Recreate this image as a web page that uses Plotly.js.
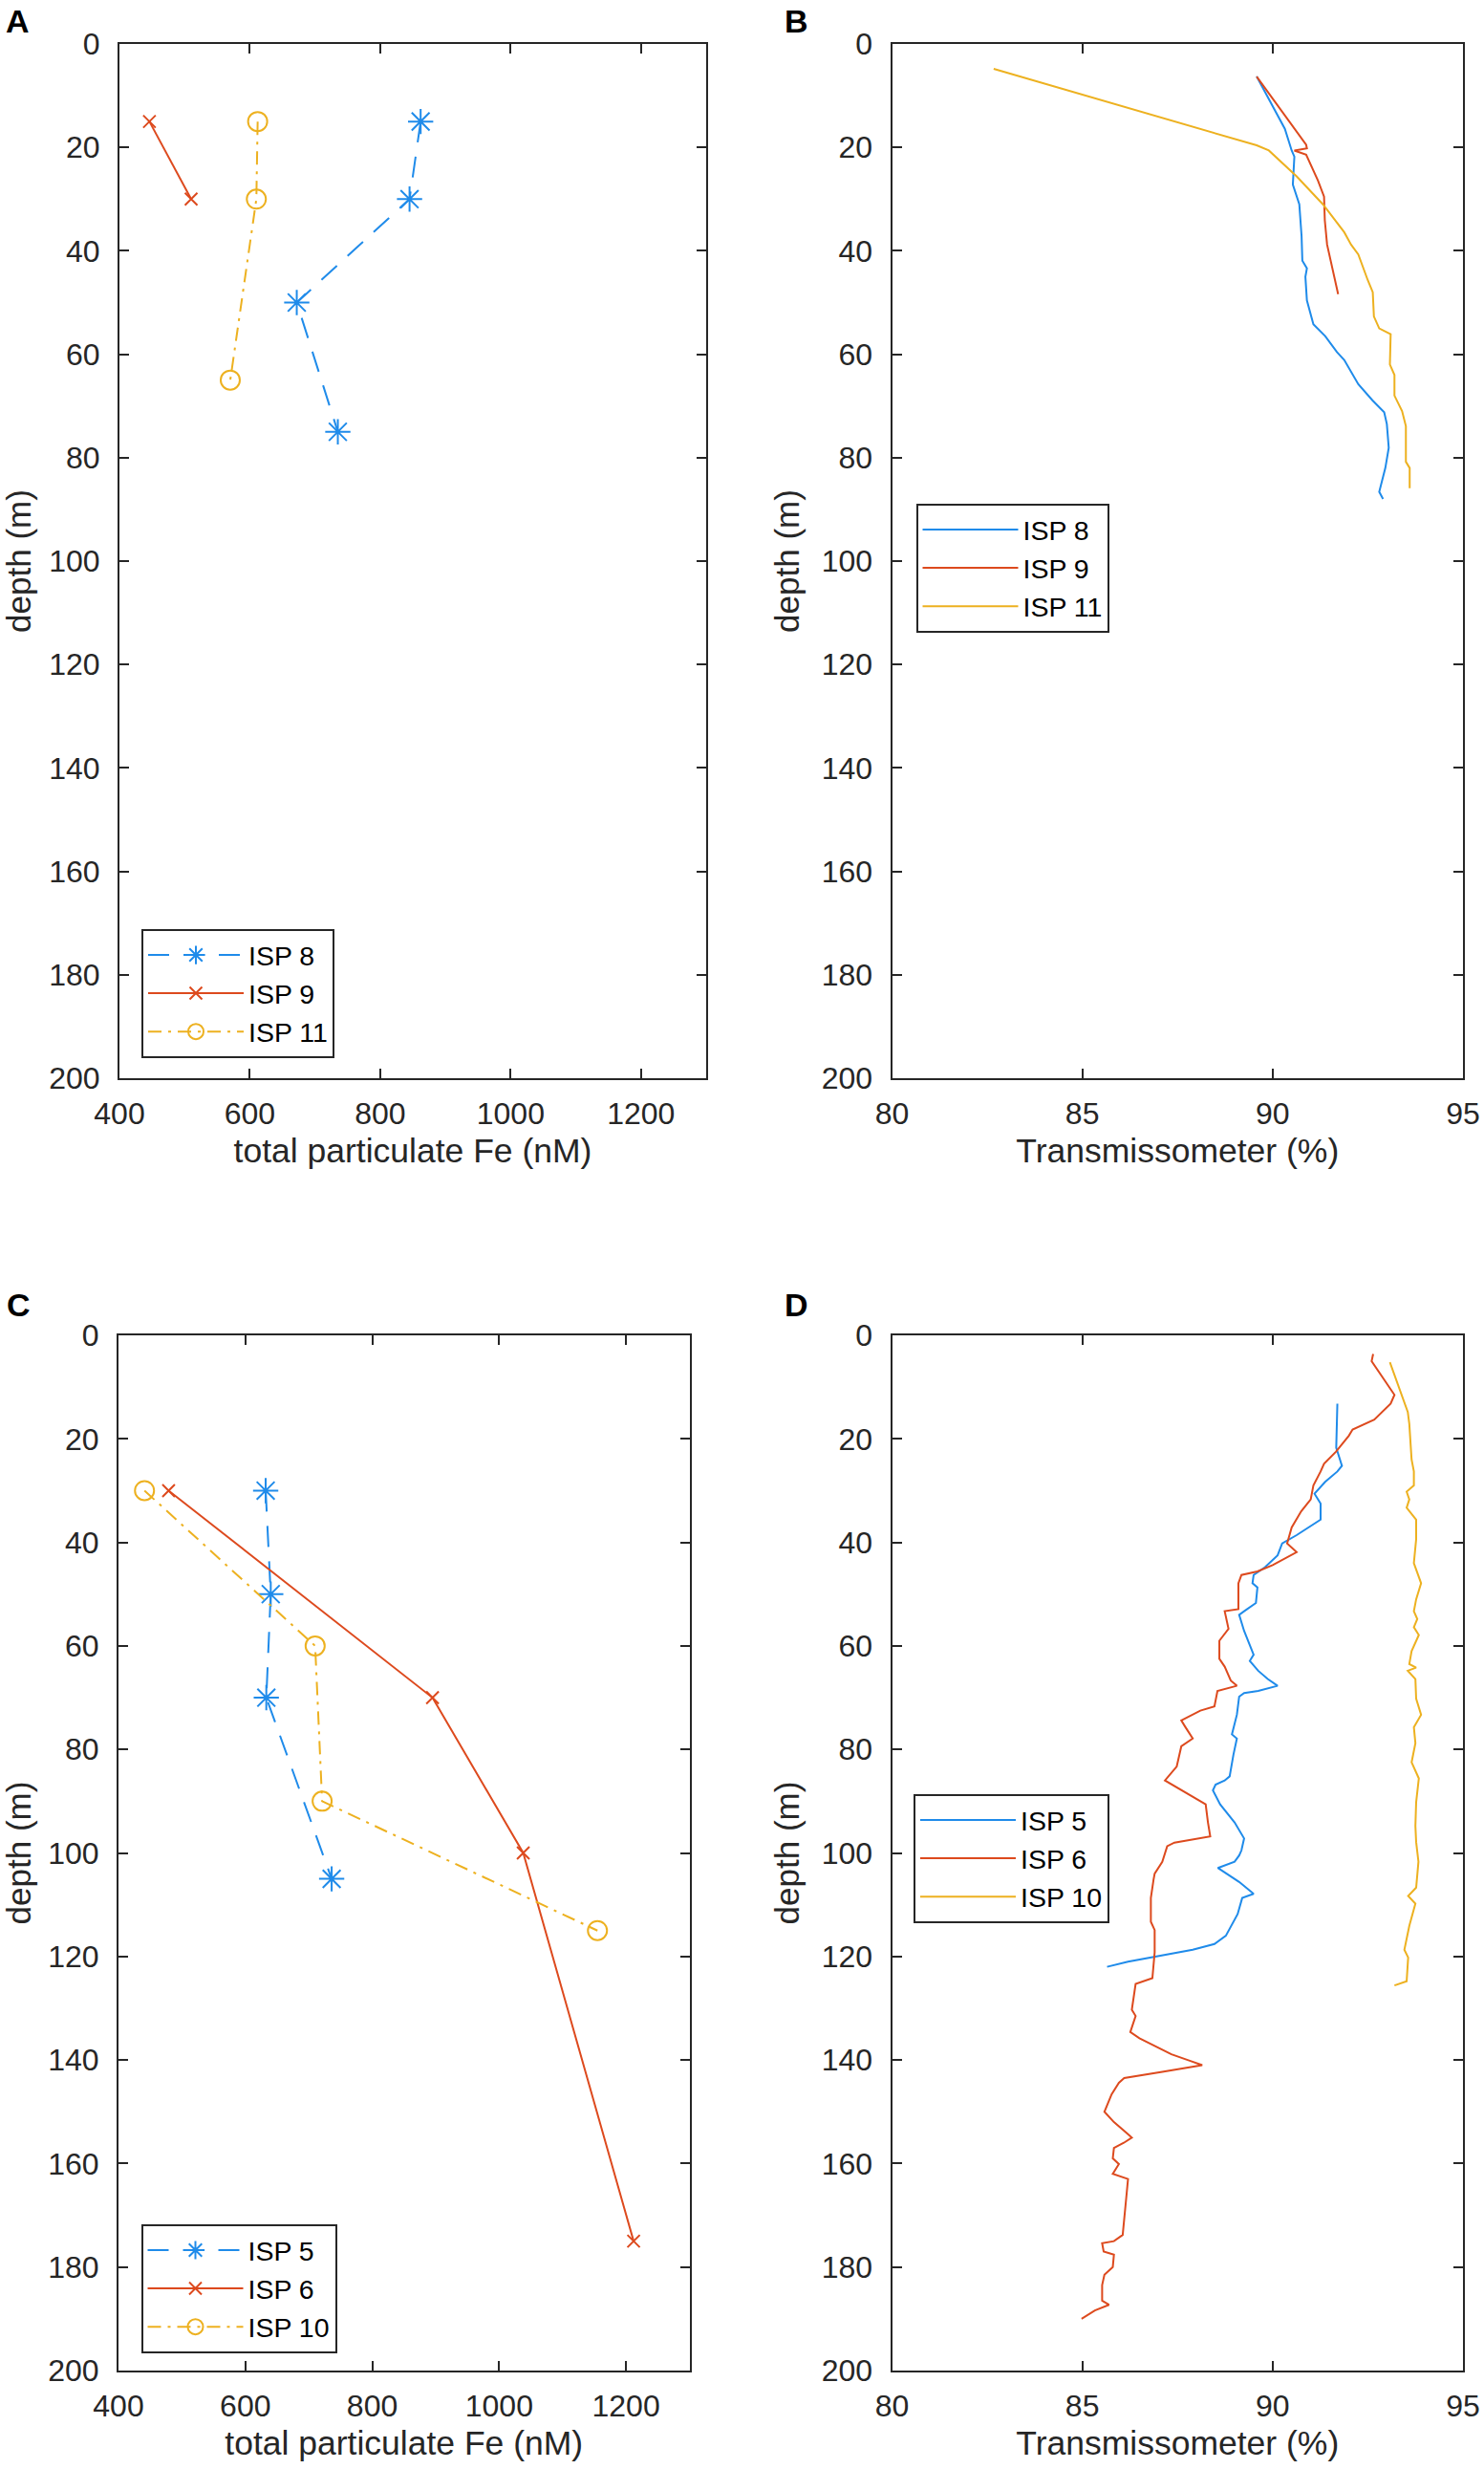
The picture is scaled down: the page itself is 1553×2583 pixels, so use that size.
<!DOCTYPE html>
<html><head><meta charset="utf-8">
<script src="https://cdn.plot.ly/plotly-3.0.1.min.js"></script>
<style>html,body{margin:0;padding:0;background:#fff}#chart{width:1553px;height:2583px}</style>
</head><body><div id="chart"></div>
<script>
// ---------- Panel A: total particulate Fe (nM) vs depth ----------
const depthA_ISP8 = [15, 30, 50, 75];
const feA_ISP8 = [862, 845, 672, 735];
const depthA_ISP9 = [15, 30];
const feA_ISP9 = [446, 510];
const depthA_ISP11 = [15, 30, 65];
const feA_ISP11 = [612, 610, 570];

// ---------- Panel B: transmissometer (%) vs depth ----------
const transB_ISP8 = [89.58, 90.32, 90.5, 90.57, 90.53, 90.7, 90.76, 90.78, 90.9, 90.86, 90.9, 91.07, 91.38, 91.69, 91.88, 92.25, 92.62, 92.93, 93.0, 93.05, 92.96, 92.8, 92.9];
const depthB_ISP8 = [6.3, 16.4, 20.6, 21.8, 27.2, 31, 37.2, 41.9, 43.4, 45, 49.6, 54.2, 56.5, 59.6, 61.1, 65.8, 68.9, 71.2, 73.5, 78.1, 82, 86.6, 88];
const transB_ISP9 = [89.58, 90.88, 90.9, 90.57, 90.88, 91.0, 91.19, 91.35, 91.37, 91.43, 91.56, 91.72];
const depthB_ISP9 = [6.3, 19.5, 20.2, 20.6, 21.4, 23.3, 26.4, 29.5, 34.1, 38.8, 43.4, 48.4];
const transB_ISP11 = [82.67, 89.58, 89.9, 90.63, 91.32, 91.88, 92.06, 92.25, 92.5, 92.63, 92.66, 92.8, 93.1, 93.08, 93.2, 93.2, 93.4, 93.5, 93.5, 93.6, 93.6];
const depthB_ISP11 = [4.8, 19.6, 20.6, 25.6, 31, 36.4, 38.8, 40.7, 45.7, 48, 52.7, 55, 56.1, 62, 64, 68, 71, 73.9, 80.8, 82, 85.9];

// ---------- Panel C: total particulate Fe (nM) vs depth ----------
const depthC_ISP5 = [30, 50, 70, 105];
const feC_ISP5 = [632, 640, 633, 736];
const depthC_ISP6 = [30, 70, 100, 175];
const feC_ISP6 = [479, 895, 1038, 1212];
const depthC_ISP10 = [30, 60, 90, 115];
const feC_ISP10 = [441, 710, 721, 1155];

// ---------- Panel D: transmissometer (%) vs depth ----------
const transD_ISP5 = [91.7, 91.67, 91.82, 91.7, 91.38, 91.1, 91.26, 91.26, 90.63, 90.25, 90.13, 89.8, 89.5, 89.47, 89.6, 89.56, 89.25, 89.12, 89.25, 89.37, 89.5, 89.4, 89.62, 89.87, 90.13, 89.62, 89.25, 89.12, 89.06, 88.93, 89.06, 88.97, 88.87, 88.74, 88.5, 88.43, 88.62, 89.0, 89.25, 89.18, 89.12, 89.0, 88.56, 89.12, 89.5, 89.2, 89.08, 88.77, 88.47, 87.9, 86.96, 86.2, 85.65];
const depthD_ISP5 = [13.2, 21.7, 25.2, 26.3, 28.3, 30.6, 32.5, 35.6, 38.6, 40.2, 42.5, 44.8, 46.3, 47.9, 48.7, 51.7, 53.3, 54, 57.1, 59.4, 61.7, 62.9, 64.8, 66.4, 67.7, 68.7, 69.1, 69.8, 73.3, 77.1, 77.9, 81, 85.2, 86, 86.8, 87.9, 90.6, 94.1, 97.2, 99.5, 100.5, 101.7, 102.9, 105.6, 107.9, 108.7, 111.8, 116, 117.6, 118.7, 119.9, 121, 122];
const transD_ISP6 = [92.64, 92.6, 93.2, 93.1, 92.67, 92.1, 92.0, 91.66, 91.35, 91.26, 91.07, 91.0, 90.75, 90.5, 90.38, 90.63, 90.0, 89.6, 89.18, 89.1, 89.1, 88.74, 88.84, 88.6, 88.6, 88.74, 88.9, 89.06, 88.55, 88.47, 88.1, 87.6, 87.7, 87.9, 87.6, 87.48, 87.17, 87.8, 88.24, 88.3, 88.36, 87.42, 87.23, 87.1, 86.9, 86.87, 86.8, 86.8, 86.9, 86.9, 86.87, 86.84, 86.4, 86.34, 86.3, 86.4, 86.26, 86.5, 87.34, 87.84, 88.15, 87.1, 86.1, 85.96, 85.77, 85.58, 85.83, 86.15, 86.3, 86.09, 85.83, 85.8, 85.96, 85.8, 86.2, 86.15, 86.09, 86.06, 85.83, 85.52, 85.56, 85.83, 85.8, 85.58, 85.52, 85.52, 85.7, 85.33, 84.98];
const depthD_ISP6 = [3.6, 5.0, 11.5, 13.2, 16.3, 18.2, 19.4, 22.5, 24.8, 26.3, 29, 31.7, 34, 37.1, 40.2, 41.9, 44.4, 45.6, 46.3, 47.9, 52.9, 53.3, 56.7, 59, 62.5, 64, 66.7, 67.7, 68.7, 71.7, 72.5, 74.4, 75.6, 77.9, 79.4, 83.3, 86, 88.7, 90.6, 94.1, 96.8, 98, 98.7, 101.7, 104, 105.2, 108.7, 113.3, 114.9, 119.2, 122.6, 124.2, 125.3, 128, 130.3, 131.5, 134.6, 135.8, 138.9, 140.2, 141, 142.3, 143.5, 144.4, 146.6, 150, 152, 154, 155, 156, 157, 159, 160.1, 162, 163, 166.9, 170.7, 173.8, 175, 175.4, 177, 177.6, 180, 181.5, 183.5, 186.5, 187.3, 188.4, 190];
const transD_ISP10 = [93.08, 93.33, 93.55, 93.59, 93.65, 93.71, 93.71, 93.52, 93.59, 93.52, 93.77, 93.77, 93.71, 93.9, 93.77, 93.71, 93.8, 93.71, 93.84, 93.65, 93.59, 93.77, 93.55, 93.75, 93.77, 93.9, 93.71, 93.75, 93.65, 93.84, 93.77, 93.75, 93.77, 93.83, 93.77, 93.56, 93.75, 93.59, 93.46, 93.56, 93.52, 93.2];
const depthD_ISP10 = [5.2, 10.2, 14.8, 17.1, 24, 26.3, 29, 30.2, 31.7, 33.3, 35.6, 39.4, 44, 47.9, 51, 53.3, 54.8, 56.4, 57.9, 61, 63.5, 64.2, 64.8, 66.4, 70.2, 73.3, 75.7, 78.8, 82.5, 85.6, 90.2, 94.8, 97.9, 101.7, 106.7, 108.3, 109.8, 114.1, 118.7, 120.2, 124.8, 125.6];

// ---------- tick labels ----------
const depthTicks = [0, 20, 40, 60, 80, 100, 120, 140, 160, 180, 200];
const feTicks = [400, 600, 800, 1000, 1200];
const transTicks = [80, 85, 90, 95];

// ---------- styling ----------
const W = 1553, H = 2583;
const px = v => v / W;
const py = v => 1 - v / H;
const FONT = 'Liberation Sans, Arial, Helvetica, sans-serif';
const AX = '#262626';
const BLUE = '#1F8BEA', RED = '#DD4A1E', YEL = '#EDB120';
const DASH = '22px,15px';
const DASHDOT = '14px,7px,3px,7px';

function xAxis(l, r, anchor, ticks, range, title) {
  return {
    domain: [px(l), px(r)], anchor: anchor, range: range, autorange: false,
    tickvals: ticks, ticktext: ticks.map(String),
    ticks: 'inside', ticklen: 10, tickwidth: 2, tickcolor: AX,
    showline: true, linecolor: AX, linewidth: 2, mirror: 'ticks',
    showgrid: false, zeroline: false, ticklabelstandoff: 8,
    tickfont: {family: FONT, size: 32, color: AX},
    title: {text: title, font: {family: FONT, size: 35.5, color: AX}, standoff: 9}
  };
}
function yAxis(t, b, anchor) {
  return {
    domain: [py(b), py(t)], anchor: anchor, range: [200, 0], autorange: false,
    tickvals: depthTicks, ticktext: depthTicks.map(String),
    ticks: 'inside', ticklen: 10, tickwidth: 2, tickcolor: AX,
    showline: true, linecolor: AX, linewidth: 2, mirror: 'ticks',
    showgrid: false, zeroline: false, ticklabelstandoff: 12,
    tickfont: {family: FONT, size: 32, color: AX},
    title: {text: 'depth (m)', font: {family: FONT, size: 35, color: AX}, standoff: 12}
  };
}

function pts(name, x, y, color, dash, symbol, size, xa, ya, leg) {
  return {
    type: 'scatter', mode: 'lines+markers', name: name, x: x, y: y,
    xaxis: xa, yaxis: ya, legend: leg,
    line: {color: color, width: 2, dash: dash},
    marker: {symbol: symbol, size: size, color: color, line: {color: color, width: 2}}
  };
}
function prof(name, x, y, color, xa, ya, leg) {
  return {
    type: 'scatter', mode: 'lines', name: name, x: x, y: y,
    xaxis: xa, yaxis: ya, legend: leg,
    line: {color: color, width: 2}
  };
}

const traces = [
  pts('ISP 8', feA_ISP8, depthA_ISP8, BLUE, DASH, 'asterisk-open', 22, 'x', 'y', 'legend'),
  pts('ISP 9', feA_ISP9, depthA_ISP9, RED, 'solid', 'x-thin-open', 13, 'x', 'y', 'legend'),
  pts('ISP 11', feA_ISP11, depthA_ISP11, YEL, DASHDOT, 'circle-open', 20, 'x', 'y', 'legend'),
  prof('ISP 8', transB_ISP8, depthB_ISP8, BLUE, 'x2', 'y2', 'legend2'),
  prof('ISP 9', transB_ISP9, depthB_ISP9, RED, 'x2', 'y2', 'legend2'),
  prof('ISP 11', transB_ISP11, depthB_ISP11, YEL, 'x2', 'y2', 'legend2'),
  pts('ISP 5', feC_ISP5, depthC_ISP5, BLUE, DASH, 'asterisk-open', 22, 'x3', 'y3', 'legend3'),
  pts('ISP 6', feC_ISP6, depthC_ISP6, RED, 'solid', 'x-thin-open', 13, 'x3', 'y3', 'legend3'),
  pts('ISP 10', feC_ISP10, depthC_ISP10, YEL, DASHDOT, 'circle-open', 20, 'x3', 'y3', 'legend3'),
  prof('ISP 5', transD_ISP5, depthD_ISP5, BLUE, 'x4', 'y4', 'legend4'),
  prof('ISP 6', transD_ISP6, depthD_ISP6, RED, 'x4', 'y4', 'legend4'),
  prof('ISP 10', transD_ISP10, depthD_ISP10, YEL, 'x4', 'y4', 'legend4')
];

function leg(l, t) {
  return {
    x: px(l), y: py(t), xanchor: 'left', yanchor: 'top',
    bgcolor: '#ffffff', bordercolor: '#262626', borderwidth: 2,
    font: {family: FONT, size: 28.5, color: '#000'},
    itemwidth: 100, tracegroupgap: 0, traceorder: 'normal'
  };
}
function label(txt, x, y) {
  return {text: '<b>' + txt + '</b>', xref: 'paper', yref: 'paper', x: px(x), y: py(y),
    xanchor: 'left', yanchor: 'middle', showarrow: false,
    font: {family: FONT, size: 34, color: '#000'}};
}

const layout = {
  width: W, height: H, paper_bgcolor: '#fff', plot_bgcolor: '#fff',
  margin: {l: 0, r: 0, t: 0, b: 0},
  showlegend: true,
  xaxis: xAxis(125, 739, 'y', feTicks, [400, 1300], 'total particulate Fe (nM)'),
  yaxis: yAxis(46, 1128, 'x'),
  xaxis2: xAxis(933.5, 1531, 'y2', transTicks, [80, 95], 'Transmissometer (%)'),
  yaxis2: yAxis(46, 1128, 'x2'),
  xaxis3: xAxis(124, 721.5, 'y3', feTicks, [400, 1300], 'total particulate Fe (nM)'),
  yaxis3: yAxis(1397, 2480, 'x3'),
  xaxis4: xAxis(933.5, 1531, 'y4', transTicks, [80, 95], 'Transmissometer (%)'),
  yaxis4: yAxis(1397, 2480, 'x4'),
  legend: leg(148, 972),
  legend2: leg(958.5, 527),
  legend3: leg(147.5, 2327),
  legend4: leg(956, 1877),
  annotations: [label('A', 4, 22), label('B', 819, 22), label('C', 5, 1365), label('D', 819, 1365)]
};

Plotly.newPlot('chart', traces, layout, {displayModeBar: false, staticPlot: true});
</script></body></html>
